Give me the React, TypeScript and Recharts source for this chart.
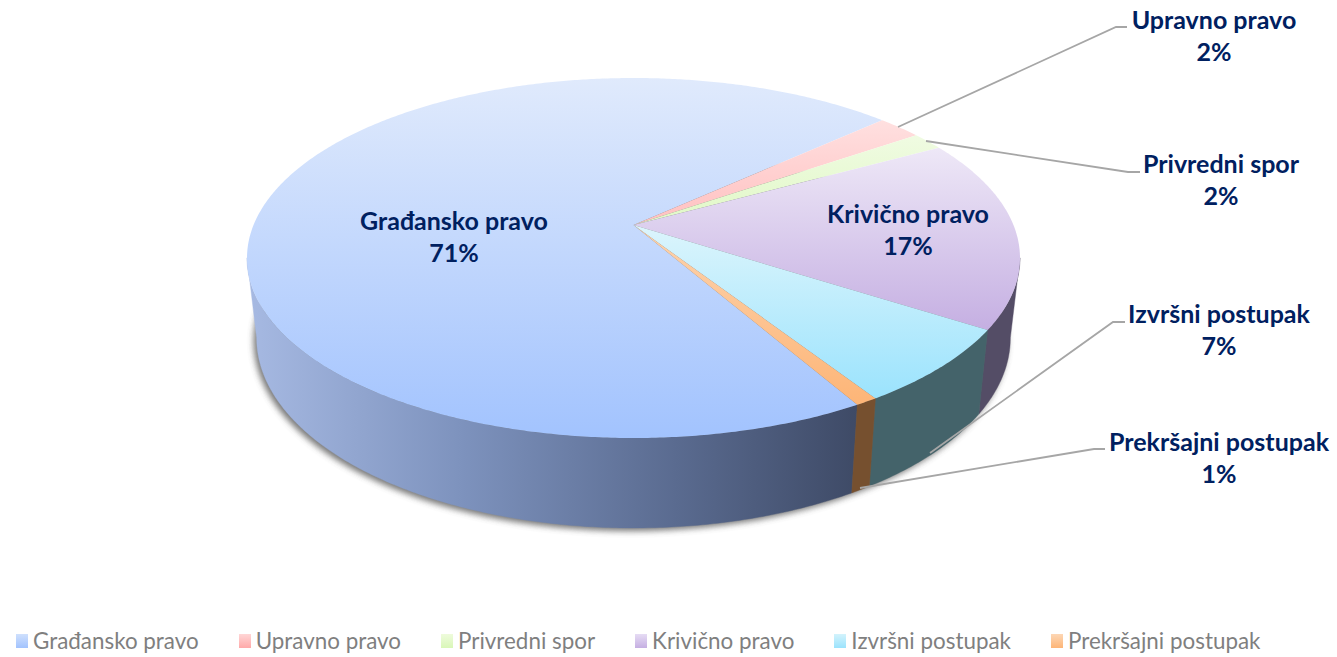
import { Legend, Pie, PieChart } from "recharts";

const CATEGORIES = ["Građansko pravo", "Upravno pravo", "Privredni spor", "Krivično pravo", "Izvršni postupak", "Prekršajni postupak"];
const SHARES = [71.4, 2.2, 1.6, 17.2, 6.8, 0.8];

const FACE_LIGHT = ["#e0eafc", "#ffe0e0", "#f0fbe2", "#eee8f7", "#dcf5fc", "#fdd3ad"];
const FACE_DARK = ["#a2c3fe", "#ffc0c0", "#e0f8c6", "#c5afe2", "#9be3fd", "#fdb577"];
const WALL_COLORS = ["url(#wall-0)", "#000", "#000", "#544d66", "#44636a", "#76502f"];
const LEGEND_LIGHT = ["#cfe0fd", "#ffd6d6", "#eefbdc", "#e6dcf4", "#d3f3fc", "#fdd7b5"];
const LEGEND_DARK = ["#a2c3fe", "#ffa9a9", "#d9f7b8", "#c5afe2", "#9be3fd", "#fdb577"];

// where each label sits, and its leader line if it has one
const LABEL_CENTERS = [
  [454, 221],
  [1214, 20],
  [1221, 164],
  [908, 214],
  [1219, 314],
  [1219, 442],
];
const LEADERS = [
  "",
  "898,127 1116,27 1127,27",
  "926,141 1128,172 1140,172",
  "",
  "930,453 1113,322 1125,322",
  "860,488 1094,449 1105,449",
];

const rows = CATEGORIES.map((name, i) => ({ name, value: SHARES[i], fill: FACE_DARK[i] }));

const SQUASH = 180 / 386.5;
const CENTER_SHIFT = 0.183; // the slices meet above the middle of the ellipse, as in a perspective view
const BOTTOM_SCALE = 0.975;
const BOTTOM_CY = 338;
const BOTTOM_RY = 190;
const WALL_FROM = -169.5;
const WALL_TO = -10.5;

function project(deg: number, cx: number, cy: number, rx: number, ry: number) {
  const a = (deg * Math.PI) / 180;
  const u = Math.cos(a);
  const v = Math.sin(a);
  const d = CENTER_SHIFT;
  const w = 1 + d * v;
  const px = (u * Math.sqrt(1 - d * d)) / w;
  const py = (v + d) / w;
  return `${(cx + rx * px).toFixed(2)},${(cy - ry * py).toFixed(2)}`;
}

function arc(from: number, to: number, cx: number, cy: number, rx: number, ry: number) {
  const steps = Math.max(2, Math.ceil(Math.abs(to - from) * 2));
  const pts: string[] = [];
  for (let i = 0; i <= steps; i++) {
    pts.push(project(from + ((to - from) * i) / steps, cx, cy, rx, ry));
  }
  return pts;
}

function PieSlice(props: any) {
  const { cx, cy, outerRadius, startAngle, endAngle, name } = props;
  const index = CATEGORIES.indexOf(name);
  const rx = outerRadius;
  const ry = outerRadius * SQUASH;
  const hi = Math.max(startAngle, endAngle);
  const lo = Math.min(startAngle, endAngle);

  const face = ["M", cx + "," + (cy - ry * CENTER_SHIFT), "L", ...arc(hi, lo, cx, cy, rx, ry), "Z"].join(" ");

  let wall = "";
  for (const shift of [-360, 0]) {
    const a = Math.max(lo + shift, WALL_FROM);
    const b = Math.min(hi + shift, WALL_TO);
    if (a < b) {
      const top = arc(a, b, cx, cy, rx, ry);
      const bottom = arc(b, a, cx, BOTTOM_CY, rx * BOTTOM_SCALE, BOTTOM_RY);
      wall = "M " + [...top, ...bottom].join(" L ") + " Z";
    }
  }

  return (
    <g>
      {index === 0 && (
        <ellipse
          cx={cx - 3}
          cy={BOTTOM_CY + 3}
          rx={rx * BOTTOM_SCALE}
          ry={BOTTOM_RY}
          fill="#4a4a4a"
          opacity={0.75}
          filter="url(#pie-shadow)"
        />
      )}
      {wall && <path d={wall} fill={WALL_COLORS[index]} stroke={WALL_COLORS[index]} strokeWidth={0.4} />}
      <path d={face} fill={`url(#face-${index})`} />
    </g>
  );
}

function SliceLabel(props: any) {
  const { index, name, value } = props;
  const [x, y] = LABEL_CENTERS[index];
  return (
    <g>
      {LEADERS[index] && <polyline points={LEADERS[index]} fill="none" stroke="#a6a6a6" strokeWidth={1.8} />}
      <text x={x} y={y} textAnchor="middle" fontFamily="Lato" fontWeight={700} fontSize={25} fill="#002060">
        <tspan x={x} dy={9}>{name}</tspan>
        <tspan x={x} dy={32}>{Math.round(value)}%</tspan>
      </text>
    </g>
  );
}

function ChartLegend({ payload }: any) {
  return (
    <div style={{ display: "flex", gap: 40, fontFamily: "Lato", fontSize: 22.4, color: "#7f7f7f", whiteSpace: "nowrap" }}>
      {(payload ?? []).map((item: any) => {
        const i = CATEGORIES.indexOf(item.value);
        return (
          <span key={item.value} style={{ display: "flex", alignItems: "center", gap: 5 }}>
            <span
              style={{
                width: 12,
                height: 14,
                background: `linear-gradient(${LEGEND_LIGHT[i]}, ${LEGEND_DARK[i]})`,
              }}
            />
            {item.value}
          </span>
        );
      })}
    </div>
  );
}

export default function App() {
  return (
    <div style={{ position: "absolute", left: 0, top: 0, background: "#fff" }}>
      <PieChart width={1337} height={657} margin={{ top: 0, right: 0, bottom: 0, left: 0 }}>
        <defs>
          <filter id="pie-shadow" x="-5%" y="-5%" width="110%" height="110%">
            <feGaussianBlur stdDeviation="3" />
          </filter>
          <linearGradient id="wall-0" gradientUnits="userSpaceOnUse" x1="250" y1="0" x2="858" y2="0">
            <stop offset="0%" stopColor="#a6b9e2" />
            <stop offset="35%" stopColor="#7d92bd" />
            <stop offset="70%" stopColor="#5a6b90" />
            <stop offset="100%" stopColor="#3e4a66" />
          </linearGradient>
          {CATEGORIES.map((name, i) => (
            <linearGradient key={name} id={`face-${i}`} x1="0" y1="0" x2="0" y2="1">
              <stop offset="0%" stopColor={FACE_LIGHT[i]} />
              <stop offset="100%" stopColor={FACE_DARK[i]} />
            </linearGradient>
          ))}
        </defs>
        <Pie
          data={rows}
          dataKey="value"
          nameKey="name"
          cx={633.5}
          cy={258}
          outerRadius={386.5}
          startAngle={299.7}
          endAngle={-60.3}
          stroke="none"
          shape={PieSlice}
          label={SliceLabel}
          labelLine={false}
          isAnimationActive={false}
        />
        <Legend
          content={ChartLegend}
          itemSorter={null}
          wrapperStyle={{ position: "absolute", left: 16, top: 627, width: "auto" }}
        />
      </PieChart>
    </div>
  );
}
